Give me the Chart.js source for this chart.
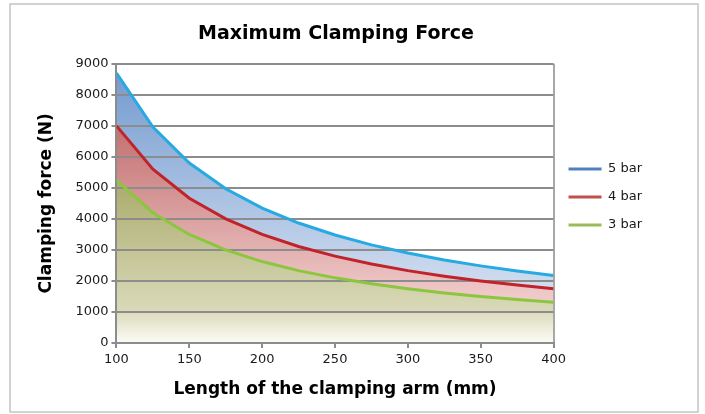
<!DOCTYPE html>
<html>
<head>
<meta charset="utf-8">
<script src="https://cdn.jsdelivr.net/npm/chart.js@4"></script>
<style>
  html, body { margin: 0; padding: 0; background: #fff; }
  #wrap { width: 705px; height: 414px; }
</style>
</head>
<body>
<div id="wrap"><canvas id="clampChart"></canvas></div>
<script>
// arm length (mm) and force (N) per supply pressure
const armLength = [100, 125, 150, 175, 200, 225, 250, 275, 300, 325, 350, 375, 400];
const force5bar = [8700, 6960, 5800, 4971, 4350, 3867, 3480, 3164, 2900, 2677, 2486, 2320, 2175];
const force4bar = [7000, 5600, 4667, 4000, 3500, 3111, 2800, 2545, 2333, 2154, 2000, 1867, 1750];
const force3bar = [5250, 4200, 3500, 3000, 2625, 2333, 2100, 1909, 1750, 1615, 1500, 1400, 1313];
const seriesNames = ['5 bar', '4 bar', '3 bar'];
const lineColors = ['#27a9e1', '#c1232b', '#8cc63e'];
const legendColors = ['#4f81bd', '#c0504d', '#9bbb59'];

const fontFamily = '"DejaVu Sans", sans-serif';
Chart.defaults.font.family = fontFamily;
Chart.defaults.color = '#1a1a1a';

const toPoints = (vals) => vals.map((v, i) => ({ x: armLength[i], y: v }));

// vertical fade of each area, top of plot to bottom
function areaFill(stops) {
  return (ctx) => {
    const area = ctx.chart.chartArea;
    if (!area) return 'rgba(0,0,0,0)';
    const g = ctx.chart.ctx.createLinearGradient(0, area.top, 0, area.bottom);
    stops.forEach(s => g.addColorStop(s[0], s[1]));
    return g;
  };
}

const fills = [
  areaFill([[0, 'rgb(112,152,206)'], [1, 'rgb(232,238,248)']]),
  areaFill([[0, 'rgb(178,80,80)'], [1, 'rgb(252,226,226)']]),
  areaFill([[0, 'rgb(155,157,90)'], [0.4, 'rgb(168,169,104)'], [0.88, 'rgb(217,217,184)'], [1, 'rgb(252,252,246)']])
];

const frame = {
  id: 'frame',
  beforeDraw(chart) {
    const c = chart.ctx;
    c.save();
    c.strokeStyle = '#c4c4c4';
    c.lineWidth = 1.5;
    c.strokeRect(10, 4, 688, 408);
    c.restore();
  },
  // nudge title and legend to where the original has them
  afterLayout(chart) {
    if (chart.titleBlock) {
      chart.titleBlock.left -= 8;
      chart.titleBlock.right -= 8;
    }
    if (chart.legend) {
      chart.legend.top -= 6;
      chart.legend.bottom -= 6;
    }
  }
};

const ctx = document.getElementById('clampChart');
new Chart(ctx, {
  type: 'line',
  data: {
    datasets: [force5bar, force4bar, force3bar].map((vals, i) => ({
      label: seriesNames[i],
      data: toPoints(vals),
      borderColor: lineColors[i],
      backgroundColor: fills[i],
      borderWidth: 3,
      pointRadius: 0,
      tension: 0,
      fill: 'origin',
      order: 3 - i
    }))
  },
  options: {
    responsive: true,
    maintainAspectRatio: false,
    animation: false,
    layout: { padding: { left: 36, right: 53, top: 6, bottom: 14 } },
    plugins: {
      filler: { drawTime: 'beforeDraw' },
      title: {
        display: true,
        text: 'Maximum Clamping Force',
        font: { size: 19, weight: 'bold' },
        color: '#000',
        padding: { top: 17, bottom: 18 }
      },
      legend: {
        position: 'right',
        reverse: true,
        labels: {
          boxWidth: 33,
          boxHeight: 3,
          padding: 15,
          font: { size: 13 },
          generateLabels(chart) {
            const items = Chart.defaults.plugins.legend.labels.generateLabels(chart);
            items.forEach(it => {
              it.fillStyle = legendColors[it.datasetIndex];
              it.strokeStyle = legendColors[it.datasetIndex];
              it.lineWidth = 0;
            });
            return items;
          }
        }
      },
      tooltip: { enabled: false }
    },
    scales: {
      x: {
        type: 'linear',
        min: 100,
        max: 400,
        ticks: { stepSize: 50, font: { size: 13 }, padding: 4, callback: (v) => String(v) },
        grid: {
          color: (c) => c.tick && c.tick.value === 400 ? '#a8a8a8' : 'rgba(0,0,0,0)',
          tickColor: '#8c8c8c',
          lineWidth: 2,
          tickLength: 5
        },
        border: { color: '#8c8c8c', width: 2 },
        title: {
          display: true,
          text: 'Length of the clamping arm (mm)',
          font: { size: 17, weight: 'bold' },
          color: '#000',
          padding: { top: 8, bottom: 0 }
        }
      },
      y: {
        min: 0,
        max: 9000,
        ticks: { stepSize: 1000, font: { size: 13 }, padding: 3, callback: (v) => String(v) },
        grid: { color: '#8c8c8c', lineWidth: 2, tickLength: 5 },
        border: { color: '#8c8c8c', width: 2 },
        title: {
          display: true,
          text: 'Clamping force (N)',
          font: { size: 17, weight: 'bold' },
          color: '#000',
          padding: { top: 0, bottom: 16 }
        }
      }
    }
  },
  plugins: [frame]
});
</script>
</body>
</html>
